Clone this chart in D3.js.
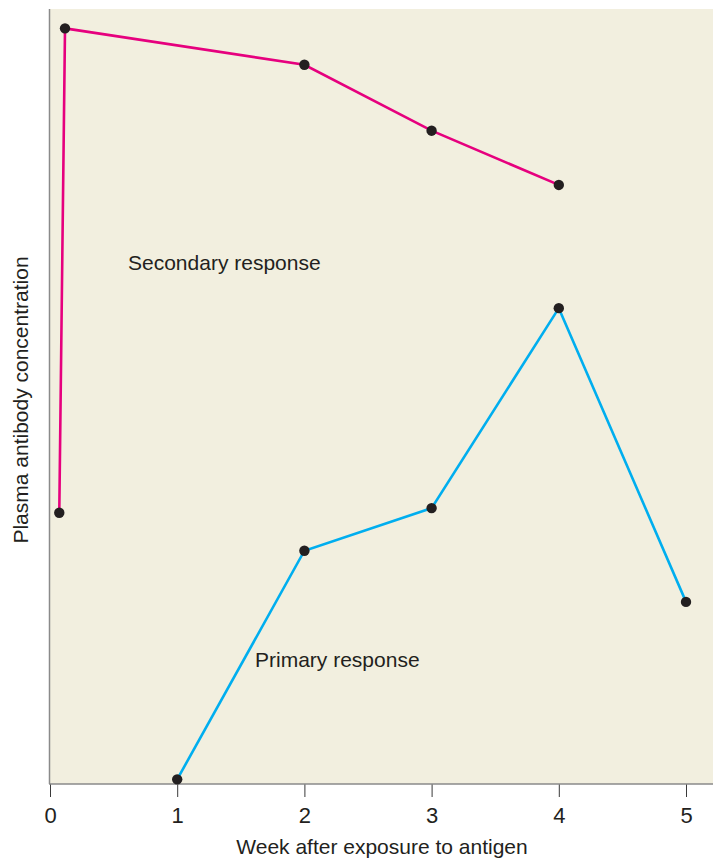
<!DOCTYPE html>
<html>
<head>
<meta charset="utf-8">
<script src="https://cdn.jsdelivr.net/npm/d3@7"></script>
<style>
  html, body { margin: 0; padding: 0; background: #ffffff; }
  svg { display: block; }
  text { font-family: "Liberation Sans", Arial, Helvetica, sans-serif; fill: #231f20; }
</style>
</head>
<body>
<svg id="chart" width="713" height="858"></svg>
<script>
// ---- data ----
const xTicks = [0, 1, 2, 3, 4, 5];
const secondaryWeeks = [0.073, 0.118, 2, 3, 4];
const secondaryValues = [35, 97.5, 92.8, 84.3, 77.3];
const primaryWeeks = [1, 2, 3, 4, 5];
const primaryValues = [0.6, 30.1, 35.6, 61.4, 23.5];
const xTitle = "Week after exposure to antigen";
const yTitle = "Plasma antibody concentration";
const secondaryLabel = "Secondary response";
const primaryLabel = "Primary response";

// ---- layout ----
const svg = d3.select("#chart");
const plotLeft = 50, plotRight = 713, plotTop = 9, plotBottom = 784;
const x = d3.scaleLinear().domain([0, 5]).range([50, 686]);
const y = d3.scaleLinear().domain([0, 100]).range([plotBottom, plotTop]);

svg.append("rect")
  .attr("x", plotLeft).attr("y", plotTop)
  .attr("width", plotRight - plotLeft).attr("height", plotBottom - plotTop)
  .attr("fill", "#f2efdf");

// left axis line
svg.append("line")
  .attr("x1", plotLeft - 0.5).attr("x2", plotLeft - 0.5)
  .attr("y1", plotTop).attr("y2", plotBottom)
  .attr("stroke", "#8a8a8a").attr("stroke-width", 1.5);

// bottom axis
const xAxis = d3.axisBottom(x).tickValues(xTicks).tickSize(13).tickPadding(9).tickFormat(d3.format("d"));
const gx = svg.append("g").attr("transform", `translate(0,${plotBottom})`).call(xAxis);
gx.select(".domain").remove();
gx.selectAll(".tick line").attr("stroke", "#3a3a3a").attr("stroke-width", 1);
gx.selectAll(".tick text")
  .attr("font-size", 22)
  .attr("font-family", "Liberation Sans, Arial, sans-serif")
  .attr("fill", "#231f20")
  .attr("y", 39)
  .attr("dy", "0");
svg.append("line")
  .attr("x1", plotLeft - 1).attr("x2", plotRight)
  .attr("y1", plotBottom).attr("y2", plotBottom)
  .attr("stroke", "#8a8a8a").attr("stroke-width", 1.5);

// titles
svg.append("text")
  .attr("x", (234 + 530) / 2).attr("y", 854)
  .attr("text-anchor", "middle").attr("font-size", 21)
  .text(xTitle);
svg.append("text")
  .attr("transform", "translate(28,400) rotate(-90)")
  .attr("text-anchor", "middle").attr("font-size", 21)
  .text(yTitle);

// lines
const line = d3.line().x(d => x(d[0])).y(d => y(d[1]));
const secondary = secondaryWeeks.map((w, i) => [w, secondaryValues[i]]);
const primary = primaryWeeks.map((w, i) => [w, primaryValues[i]]);

svg.append("path").datum(secondary)
  .attr("d", line).attr("fill", "none")
  .attr("stroke", "#e6007e").attr("stroke-width", 2.6);
svg.append("path").datum(primary)
  .attr("d", line).attr("fill", "none")
  .attr("stroke", "#00aeef").attr("stroke-width", 2.6);

svg.selectAll("circle.s").data(secondary).enter().append("circle")
  .attr("class", "s")
  .attr("cx", d => x(d[0])).attr("cy", d => y(d[1])).attr("r", 5.2)
  .attr("fill", "#231f20");
svg.selectAll("circle.p").data(primary).enter().append("circle")
  .attr("class", "p")
  .attr("cx", d => x(d[0])).attr("cy", d => y(d[1])).attr("r", 5.2)
  .attr("fill", "#231f20");

// series labels
svg.append("text").attr("x", 128).attr("y", 270).attr("font-size", 21).text(secondaryLabel);
svg.append("text").attr("x", 255).attr("y", 667).attr("font-size", 21).text(primaryLabel);
</script>
</body>
</html>
